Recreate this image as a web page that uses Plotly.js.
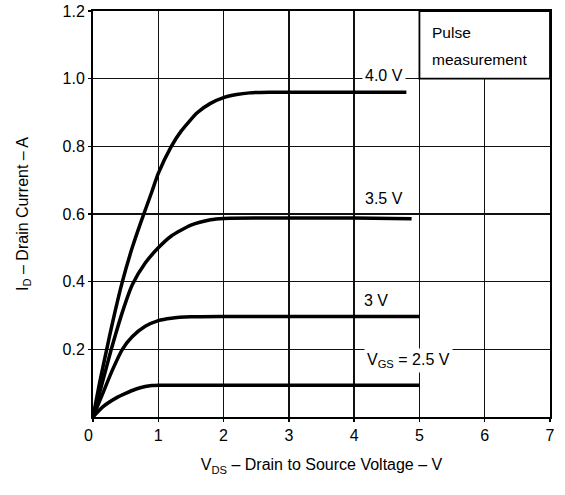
<!DOCTYPE html>
<html>
<head>
<meta charset="utf-8">
<script src="https://cdn.plot.ly/plotly-3.0.1.min.js"></script>
<style>html,body{margin:0;padding:0;background:#fff;}#chart{width:565px;height:495px;}</style>
</head>
<body>
<div id="chart"></div>
<script>
// Data
const vds40 = [0, 0.1, 0.21, 0.3, 0.45, 0.6, 0.75, 0.9, 1.0, 1.2, 1.35, 1.6, 1.8, 2.0, 2.2, 2.4, 2.7, 3.0, 4.0, 4.8];
const id40  = [0, 0.1, 0.2, 0.28, 0.4, 0.5, 0.585, 0.665, 0.72, 0.80, 0.845, 0.9, 0.927, 0.944, 0.953, 0.958, 0.96, 0.96, 0.96, 0.96];

const vds35 = [0, 0.14, 0.28, 0.45, 0.6, 0.8, 1.0, 1.2, 1.5, 1.8, 2.0, 3.0, 4.0, 4.88];
const id35  = [0, 0.1, 0.2, 0.31, 0.39, 0.455, 0.5, 0.535, 0.567, 0.583, 0.587, 0.588, 0.588, 0.586];

const vds30 = [0, 0.15, 0.3, 0.45, 0.6, 0.8, 1.0, 1.2, 1.5, 2.0, 3.0, 4.0, 5.0];
const id30  = [0, 0.07, 0.14, 0.2, 0.237, 0.268, 0.285, 0.292, 0.296, 0.297, 0.297, 0.297, 0.297];

const vds25 = [0, 0.15, 0.37, 0.5, 0.65, 0.8, 0.9, 1.0, 2.0, 3.0, 4.0, 5.0];
const id25  = [0, 0.03, 0.058, 0.07, 0.082, 0.09, 0.093, 0.094, 0.094, 0.094, 0.094, 0.094];

const xTickVals = [0, 1, 2, 3, 4, 5, 6, 7];
const xTickText = ['0\u2007', '1', '2', '3', '4', '5', '6', '7'];
const yTickVals = [0.2, 0.4, 0.6, 0.8, 1.0, 1.2];
const yTickText = ['0.2', '0.4', '0.6', '0.8', '1.0', '1.2'];

const curveLabels = ['4.0 V', '3.5 V', '3 V', 'V<sub>GS</sub> = 2.5 V'];
const labelX = [4.46, 4.46, 4.34, 4.83];
const labelY = [1.008, 0.645, 0.345, 0.167];

const boxLines = ['Pulse', 'measurement'];

const FONT = 'Liberation Sans, Arial, Helvetica, sans-serif';
const lineStyle = {color: '#000', width: 3.5, shape: 'spline', smoothing: 0.6};

const traces = [
  {x: vds40, y: id40},
  {x: vds35, y: id35},
  {x: vds30, y: id30},
  {x: vds25, y: id25}
].map(t => Object.assign(t, {type: 'scatter', mode: 'lines', line: lineStyle, showlegend: false, hoverinfo: 'skip'}));

const annotations = curveLabels.map((txt, i) => ({
  x: labelX[i], y: labelY[i], xref: 'x', yref: 'y', text: txt, showarrow: false,
  font: {family: FONT, size: 16, color: '#000'}, bgcolor: '#fff', borderpad: 2
}));
annotations.push({x: 5.16, y: 1.135, xref: 'x', yref: 'y', text: boxLines[0], showarrow: false,
  xanchor: 'left', font: {family: FONT, size: 15.5, color: '#000'}});
annotations.push({x: 5.16, y: 1.058, xref: 'x', yref: 'y', text: boxLines[1], showarrow: false,
  xanchor: 'left', font: {family: FONT, size: 15.5, color: '#000'}});

const axisCommon = {
  showline: true, mirror: true, linecolor: '#000', linewidth: 2,
  showgrid: true, gridcolor: '#111', gridwidth: 1.4, zeroline: false,
  ticks: 'outside', ticklen: 3, tickcolor: '#000', tickwidth: 1.3,
  tickfont: {family: FONT, size: 16, color: '#000'}, fixedrange: true
};

const layout = {
  width: 565, height: 495,
  margin: {l: 93, r: 15, t: 11, b: 78},
  paper_bgcolor: '#fff', plot_bgcolor: '#fff',
  font: {family: FONT, color: '#000'},
  xaxis: Object.assign({}, axisCommon, {
    range: [0, 7], tickmode: 'array', tickvals: xTickVals, ticktext: xTickText,
    title: {text: 'V<sub>DS</sub> – Drain to Source Voltage – V', font: {family: FONT, size: 16, color: '#000'}, standoff: 16}
  }),
  yaxis: Object.assign({}, axisCommon, {
    range: [0, 1.2], tickmode: 'array', tickvals: yTickVals, ticktext: yTickText,
    title: {text: 'I<sub>D</sub> – Drain Current – A', font: {family: FONT, size: 16, color: '#000'}, standoff: 30}
  }),
  shapes: [{
    type: 'rect', xref: 'x', yref: 'y', x0: 5, x1: 7, y0: 1.0, y1: 1.2,
    fillcolor: '#fff', line: {color: '#000', width: 1.8}, layer: 'above'
  }],
  annotations: annotations
};

Plotly.newPlot('chart', traces, layout, {staticPlot: true, displayModeBar: false});
</script>
</body>
</html>
